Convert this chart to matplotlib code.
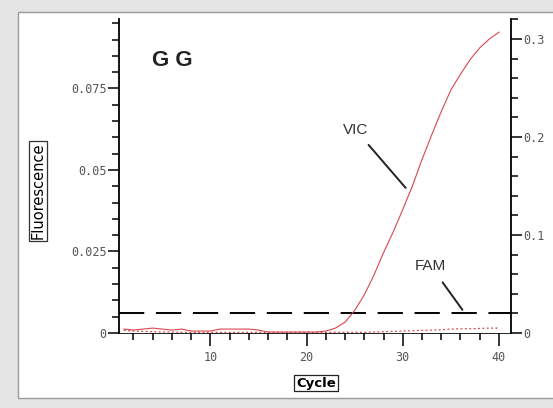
import numpy as np
import matplotlib.pyplot as plt
from matplotlib.patches import Rectangle
from matplotlib.ticker import MultipleLocator, FixedLocator

# qPCR amplification, sample GG
cycles = np.arange(1, 41)
# VIC on the right axis
vic = [0.004, 0.003, 0.004, 0.005, 0.004, 0.003, 0.004, 0.002, 0.002, 0.002,
       0.004, 0.004, 0.004, 0.004, 0.003, 0.001, 0.001, 0.001, 0.001, 0.001,
       0.001, 0.002, 0.005, 0.011, 0.023, 0.039, 0.059, 0.082, 0.103, 0.126,
       0.150, 0.177, 0.202, 0.226, 0.248, 0.264, 0.279, 0.291, 0.300, 0.307]
# FAM on the left axis
fam = [0.0008, 0.0006, 0.0005, 0.0004, 0.0003, 0.0003, 0.0002, 0.0002, 0.0002, 0.0002,
       0.0002, 0.0002, 0.0002, 0.0002, 0.0002, 0.0002, 0.0002, 0.0002, 0.0002, 0.0002,
       0.0002, 0.0002, 0.0002, 0.0002, 0.0002, 0.0002, 0.0003, 0.0004, 0.0005, 0.0006,
       0.0007, 0.0008, 0.0009, 0.0010, 0.0012, 0.0013, 0.0013, 0.0014, 0.0015, 0.0015]
threshold = 0.0061

left_ticks = [0, 0.025, 0.05, 0.075]
left_labels = ['0', '0.025', '0.05', '0.075']
right_ticks = [0, 0.1, 0.2, 0.3]
right_labels = ['0', '0.1', '0.2', '0.3']
x_ticks = [10, 20, 30, 40]

W, H = 553, 408
fig = plt.figure(figsize=(W/100, H/100), dpi=100, facecolor='#e4e4e4')
# white panel with a darker edge, like the instrument window
panel = Rectangle((18/W, 10/H), 1.0, (H - 22)/H, transform=fig.transFigure,
                  facecolor='white', edgecolor='#9a9a9a', lw=1.0, zorder=-5)
fig.add_artist(panel)

ax = fig.add_axes([119/W, 75/H, (511 - 119)/W, (333 - 19)/H])
ax.set_facecolor('none')
ax2 = ax.twinx()

ax.set_xlim(0.5, 41.25)
ax.set_ylim(0, 0.0963)
ax2.set_ylim(0, 0.3204)

red = '#d8474f'
ax2.plot(cycles, vic, color=red, lw=0.8)
ax.plot(cycles, fam, color=red, lw=0.9, ls=(0, (1.5, 2)))
ax.axhline(threshold, color='black', lw=1.4, dashes=(13, 6))

for a in (ax, ax2):
    a.spines['top'].set_visible(False)
    for s in a.spines.values():
        s.set_linewidth(1.3)
ax.spines['right'].set_visible(False)
ax2.spines['left'].set_visible(False)
ax2.spines['bottom'].set_visible(False)
ax.spines['bottom'].set_linewidth(0.6)

mono = {'family': 'DejaVu Sans Mono', 'size': 8.5}
ax.set_yticks(left_ticks)
ax.set_yticklabels(left_labels, fontdict=mono, color='#555555')
ax.yaxis.set_minor_locator(MultipleLocator(0.005))
ax2.set_yticks(right_ticks)
ax2.set_yticklabels(right_labels, fontdict=mono, color='#555555')
ax2.yaxis.set_minor_locator(MultipleLocator(0.02))
ax.set_xticks(x_ticks)
ax.set_xticklabels([str(t) for t in x_ticks], fontdict=mono, color='#555555')
ax.xaxis.set_minor_locator(FixedLocator(np.arange(2, 41, 2)))

ax.tick_params(axis='y', which='major', length=8, width=1.1, pad=1)
ax.tick_params(axis='y', which='minor', length=5, width=1.1)
ax2.tick_params(axis='y', which='major', length=8, width=1.1, pad=1)
ax2.tick_params(axis='y', which='minor', length=5, width=1.1)
ax.tick_params(axis='x', which='major', length=9, width=1.1, pad=4)
ax.tick_params(axis='x', which='minor', length=5, width=1.1)

ax.text(6.0, 0.0837, 'G G', fontsize=16, fontweight='bold', family='Liberation Sans',
        ha='center', va='center', color='#222222')
ax.annotate('VIC', xy=(30.3, 0.0445), xytext=(25.1, 0.0623), fontsize=11,
            family='Liberation Sans', ha='center', va='center', color='#333333',
            arrowprops=dict(arrowstyle='-', color='#222222', lw=1.4, shrinkA=5, shrinkB=0))
ax.annotate('FAM', xy=(36.2, 0.0071), xytext=(32.9, 0.0206), fontsize=11,
            family='Liberation Sans', ha='center', va='center', color='#333333',
            arrowprops=dict(arrowstyle='-', color='#222222', lw=1.4, shrinkA=6, shrinkB=0))

fig.text(38/W, 1 - 191/H, 'Fluorescence', rotation=90, fontsize=10.5,
         ha='center', va='center',
         bbox=dict(boxstyle='square,pad=0.12', facecolor='white', edgecolor='#333333', lw=0.9))
fig.text(316/W, 1 - 383/H, 'Cycle', fontsize=9.5, fontweight='bold',
         ha='center', va='center',
         bbox=dict(boxstyle='square,pad=0.15', facecolor='white', edgecolor='#222222', lw=0.9))

fig.savefig('out.png', dpi=100, facecolor=fig.get_facecolor())
